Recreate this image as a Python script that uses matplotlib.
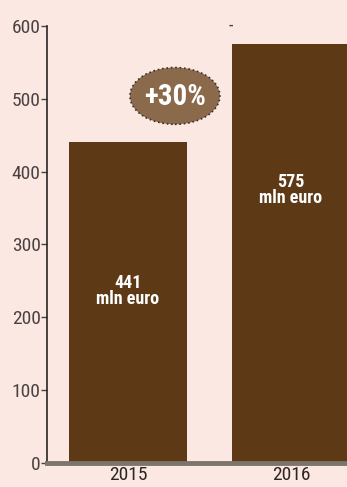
import matplotlib
matplotlib.use("Agg")
import matplotlib.pyplot as plt
from matplotlib.patches import Ellipse

# Revenue by year
years = ["2015", "2016"]
revenue = [441, 575]
bar_labels = ["441\nmln euro", "575\nmln euro"]
growth_label = "+30%"
y_ticks = [0, 100, 200, 300, 400, 500, 600]

BG = "#fce8e2"
BAR = "#5e3915"
BADGE = "#8b6a4c"
TEXT = "#4a4242"

plt.rcParams["font.family"] = ["Roboto Condensed", "DejaVu Sans"]

fig = plt.figure(figsize=(3.47, 4.87), dpi=100, facecolor=BG)
ax = fig.add_axes([47 / 347, 24 / 487, 300 / 347, 437 / 487])
ax.set_facecolor(BG)

x = list(range(len(years)))
bars = ax.bar(x, revenue, width=0.724, color=BAR, zorder=2)

ax.set_ylim(0, 600)
ax.set_xlim(-0.497, 1.344)
ax.set_yticks(y_ticks)
ax.set_yticklabels([str(t) for t in y_ticks], fontsize=14, color=TEXT)
ax.set_xticks(x)
ax.set_xticklabels(years, fontsize=14, color="#2b2525")
ax.tick_params(axis="y", length=4, width=1, color=TEXT, pad=0.5)
ax.tick_params(axis="x", length=0, pad=2)

for s in ["top", "right"]:
    ax.spines[s].set_visible(False)
ax.spines["left"].set_color("#2b2525")
ax.spines["left"].set_linewidth(1.2)
ax.spines["bottom"].set_color("#7d746c")
ax.spines["bottom"].set_linewidth(3.5)
ax.spines["bottom"].set_zorder(3)

# value labels inside the bars
ax.text(x[0], revenue[0] - 205, bar_labels[0], ha="center", va="center",
        color="white", fontsize=13, fontweight="bold", linespacing=0.9)
ax.text(x[1], revenue[1] - 200, bar_labels[1], ha="center", va="center",
        color="white", fontsize=13, fontweight="bold", linespacing=0.9)

# growth badge
badge = Ellipse((0.288, 504), 0.552, 78, facecolor=BADGE, edgecolor="#3a3030",
                linestyle=":", linewidth=1.2, zorder=4)
ax.add_patch(badge)
ax.text(0.288, 503, growth_label, ha="center", va="center", color="white",
        fontsize=21, fontweight="bold", zorder=5)

ax.text(0.632, 601, "-", ha="center", va="center", color=TEXT, fontsize=13)

fig.savefig("out.png", dpi=100, facecolor=BG)
